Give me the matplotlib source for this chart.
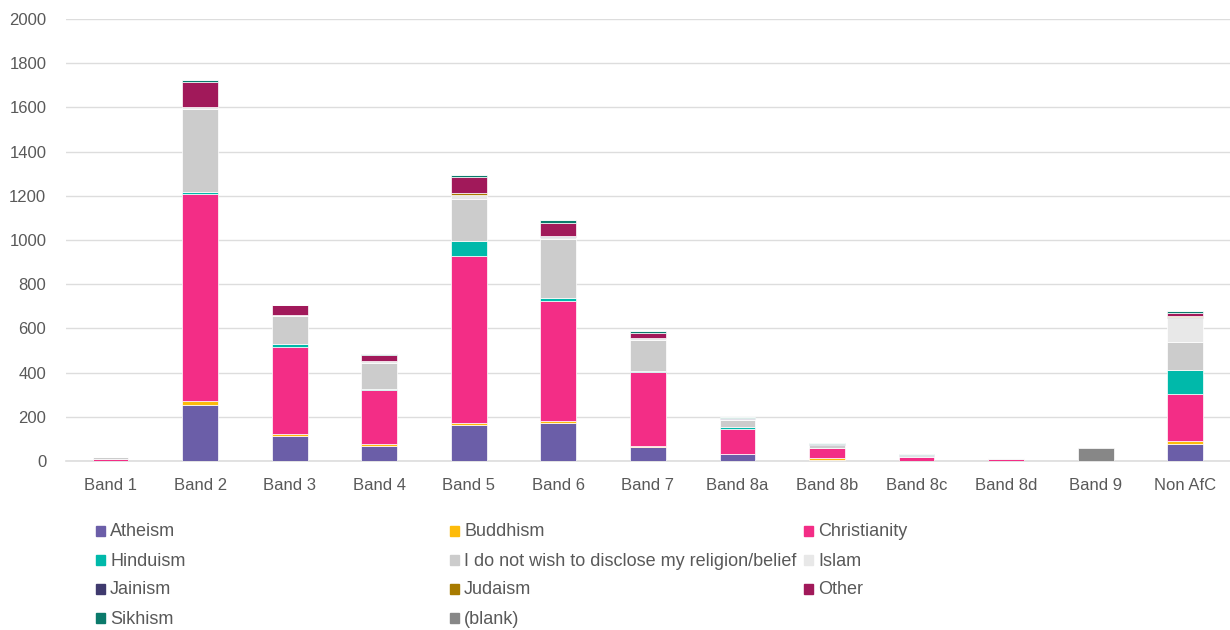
import matplotlib.pyplot as plt
import numpy as np
from matplotlib.patches import Rectangle

plt.rcParams['font.family'] = ['Liberation Sans', 'DejaVu Sans']

bands = ['Band 1', 'Band 2', 'Band 3', 'Band 4', 'Band 5', 'Band 6', 'Band 7',
         'Band 8a', 'Band 8b', 'Band 8c', 'Band 8d', 'Band 9', 'Non AfC']

# staff counts per religion/belief, one value per band
atheism      = [0, 255, 114, 70, 163, 173, 62, 30, 4, 2, 1, 0, 77]
buddhism     = [0, 15, 8, 7, 8, 8, 7, 1, 10, 0, 0, 0, 12]
christianity = [8, 938, 394, 243, 758, 544, 332, 115, 46, 14, 7, 0, 214]
hinduism     = [0, 8, 14, 5, 66, 12, 6, 8, 0, 4, 0, 0, 109]
undisclosed  = [10, 376, 127, 119, 190, 266, 140, 30, 12, 3, 4, 0, 128]
islam        = [0, 12, 5, 8, 18, 12, 8, 6, 0, 0, 0, 0, 105]
jainism      = [0, 0, 0, 0, 0, 3, 0, 4, 3, 3, 0, 0, 5]
judaism      = [0, 0, 0, 0, 8, 0, 0, 0, 0, 0, 0, 0, 5]
other        = [0, 109, 45, 26, 75, 61, 25, 0, 0, 3, 0, 0, 15]
sikhism      = [0, 9, 0, 6, 8, 10, 8, 5, 8, 2, 0, 0, 8]
blank        = [0, 0, 0, 0, 0, 0, 0, 0, 0, 0, 0, 60, 0]

series = [
    ('Atheism', atheism, '#6B5EA8'),
    ('Buddhism', buddhism, '#FDBB0A'),
    ('Christianity', christianity, '#F32D86'),
    ('Hinduism', hinduism, '#00B9AA'),
    ('I do not wish to disclose my religion/belief', undisclosed, '#CCCCCC'),
    ('Islam', islam, '#E8E8E8'),
    ('Jainism', jainism, '#3F3A6E'),
    ('Judaism', judaism, '#A87B00'),
    ('Other', other, '#A1195A'),
    ('Sikhism', sikhism, '#0B7A6B'),
    ('(blank)', blank, '#878787'),
]

text_col = '#595959'
grid_col = '#DDDDDD'

fig = plt.figure(figsize=(12.3, 6.3), dpi=100)
ax = fig.add_axes([0.0535, 0.2683, 0.9465, 0.7015])

x = np.arange(len(bands))
bottom = np.zeros(len(bands))
for name, vals, col in series:
    vals = np.array(vals, dtype=float)
    ax.bar(x, vals, width=0.4, bottom=bottom, color=col,
           edgecolor='white', linewidth=0.5, zorder=3)
    bottom += vals

ax.set_xlim(-0.5, len(bands) - 0.5)
ax.set_ylim(0, 2000)
ax.set_yticks(np.arange(0, 2001, 200))
ax.set_xticks(x)
ax.set_xticklabels(bands)
ax.yaxis.grid(True, color=grid_col, linewidth=1.0, zorder=0)
ax.tick_params(axis='both', length=0, labelsize=12, colors=text_col)
ax.tick_params(axis='y', pad=14)
ax.tick_params(axis='x', pad=12)
for s in ['top', 'right', 'left']:
    ax.spines[s].set_visible(False)
ax.spines['bottom'].set_color(grid_col)
ax.spines['bottom'].set_linewidth(1.2)

# legend laid out row by row in three columns
W, H = 1230, 630
for i, (name, vals, col) in enumerate(series):
    row, c = divmod(i, 3)
    px = 96 + c * 354
    py = 532 + row * 29
    fig.patches.append(Rectangle((px / W, (H - py - 4) / H), 9 / W, 10 / H,
                                 transform=fig.transFigure, color=col,
                                 figure=fig))
    fig.text((px + 14) / W, (H - py) / H, name, fontsize=13,
             color=text_col, va='center', ha='left')

fig.savefig('out.png')
